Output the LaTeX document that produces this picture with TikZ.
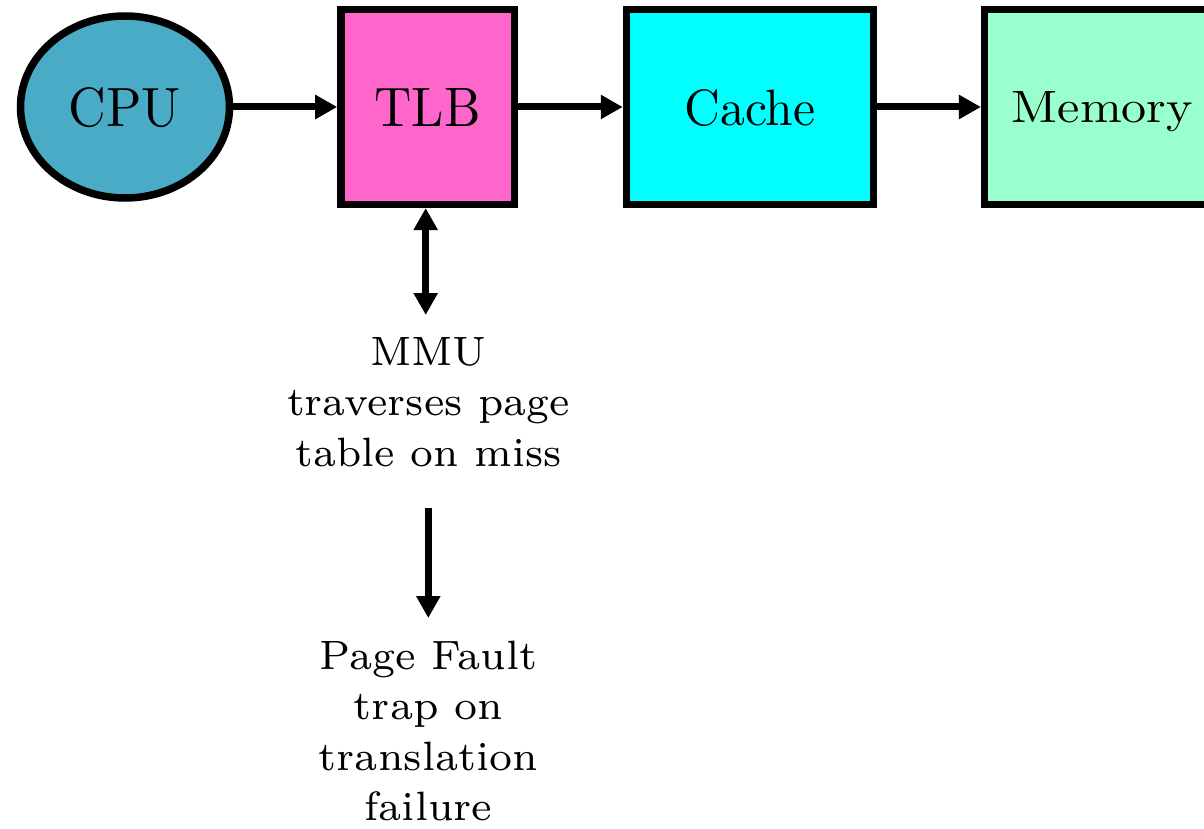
\documentclass[tikz,border=0pt]{standalone}
\usepackage{graphicx}
\usetikzlibrary{arrows.meta,shapes.geometric}

\definecolor{cpublue}{HTML}{4AABC6}
\definecolor{tlbpink}{HTML}{FF66CC}
\definecolor{cachecyan}{HTML}{00FFFF}
\definecolor{memgreen}{HTML}{99FFCC}

% label stretched to a given ink width and height
\newcommand{\boxlabel}[3]{\resizebox{#1pt}{#2pt}{#3}}
% centred multi-line note, baseline on its first line
\newcommand{\notetext}[2]{\scalebox{#1}[5.857]{\fontsize{7}{8.65}\selectfont\begin{tabular}[t]{@{}c@{}}#2\end{tabular}}}

\tikzset{
  unit/.style={draw=black, line width=7.5pt, inner sep=0pt, text depth=0pt},
  cpunode/.style={unit, ellipse, fill=cpublue, minimum width=209pt, minimum height=182pt},
  blockbox/.style={unit, rectangle, minimum height=194.6pt},
  note/.style={inner sep=0pt, anchor=base},
  flow/.style={line width=7pt, -{Triangle[length=22pt,width=23pt]}},
  twoway/.style={line width=7pt, {Triangle[length=22pt,width=23pt]}-{Triangle[length=22pt,width=23pt]}},
}

\begin{document}
\begin{tikzpicture}[x=1pt, y=-1pt]
  \clip (0,0) rectangle (1204,829);
  \fill[white] (0,0) rectangle (1204,829);

  % pipeline of units
  \node[cpunode] (cpu) at (125,107) {\boxlabel{112}{39}{CPU}};
  \node[blockbox, fill=tlbpink, minimum width=173.5pt] (tlb) at (427.7,107) {\boxlabel{106}{38}{TLB}};
  \node[blockbox, fill=cachecyan, minimum width=247pt] (cache) at (750,107) {\boxlabel{131}{36}{Cache}};
  \node[blockbox, fill=memgreen, minimum width=235.6pt] (mem) at (1102.5,107) {\boxlabel{181}{31}{Memory}};

  \draw[flow] (cpu) -- (tlb);
  \draw[flow] (tlb) -- (cache);
  \draw[flow] (cache) -- (mem);

  % miss handling below the TLB
  \node[note] (mmu) at (428.5,365) {\notetext{5.75}{MMU\\traverses page\\table on miss}};
  \node[note] (fault) at (428.5,669) {\notetext{5.8}{Page Fault\\trap on\\translation\\failure}};

  \coordinate (walk) at (425.7,315);
  \draw[twoway] (tlb.south -| walk) -- (walk);

  \coordinate (missTop) at (428.3,508);
  \coordinate (missEnd) at (428.3,618);
  \draw[flow] (missTop) -- (missEnd);
\end{tikzpicture}
\end{document}
